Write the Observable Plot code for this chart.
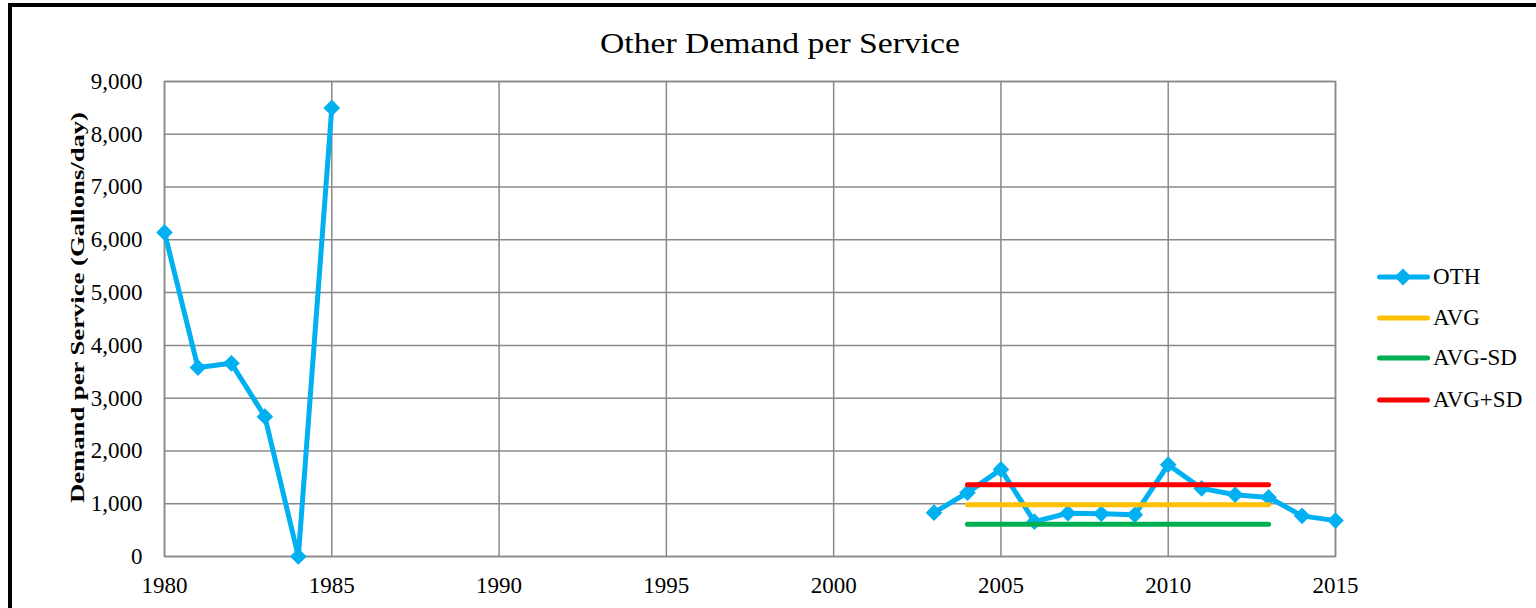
<!DOCTYPE html>
<html><head><meta charset="utf-8">
<script src="https://cdn.jsdelivr.net/npm/d3@7"></script>
<script src="https://cdn.jsdelivr.net/npm/@observablehq/plot@0.6"></script>
<style>
body{margin:0;background:#fff;}
#wrap{position:relative;width:1536px;height:608px;overflow:hidden;font-family:"Liberation Serif","Times New Roman",serif;background:#fff;}
#border{position:absolute;left:8px;top:3px;width:1600px;height:700px;border-left:4px solid #000;border-top:4px solid #000;pointer-events:none;}
#chart{position:absolute;left:0;top:0;}
.leg{position:absolute;left:1377px;height:30px;display:flex;align-items:center;font-size:23px;color:#000;white-space:nowrap;}
.leg svg{display:block;margin-right:3px;}
</style></head><body>
<div id="wrap"><div id="chart"></div><div id="border"></div><div id="legend"></div></div>
<script>
const title = "Other Demand per Service";
const yLabel = "Demand per Service (Gallons/day)";
const years = [1980,1981,1982,1983,1984,1985,1986,1987,1988,1989,1990,1991,1992,1993,1994,1995,1996,1997,1998,1999,2000,2001,2002,2003,2004,2005,2006,2007,2008,2009,2010,2011,2012,2013,2014,2015];
const oth = [6140,3580,3660,2650,0,8500,null,null,null,null,null,null,null,null,null,null,null,null,null,null,null,null,null,830,1210,1650,660,820,810,790,1740,1290,1170,1120,770,680];
const bandYears = [2004, 2013];
const avg = [980, 980];
const avgMinusSd = [610, 610];
const avgPlusSd = [1360, 1360];
const xTicks = [1980,1985,1990,1995,2000,2005,2010,2015];
const yTicks = [0,1000,2000,3000,4000,5000,6000,7000,8000,9000];
const seriesNames = ["OTH","AVG","AVG-SD","AVG+SD"];
const seriesColors = ["#00B0F0","#FFC000","#00B050","#FF0000"];

const data = years.map((year, i) => ({year, oth: oth[i]}));
const band = bandYears.map((year, i) => ({year, avg: avg[i], lo: avgMinusSd[i], hi: avgPlusSd[i]}));
const grid = "#898989";

const chart = Plot.plot({
  width: 1536,
  height: 608,
  marginLeft: 164,
  marginRight: 201,
  marginTop: 81,
  marginBottom: 52,
  style: {fontFamily: "'Liberation Serif','Times New Roman',serif", fontSize: "23px", color: "#000", background: "transparent", overflow: "visible"},
  x: {domain: [1980, 2015]},
  y: {domain: [0, 9000]},
  marks: [
    Plot.gridX(xTicks, {stroke: grid, strokeOpacity: 1, strokeWidth: 1.5}),
    Plot.gridY(yTicks, {stroke: grid, strokeOpacity: 1, strokeWidth: 1.5}),
    Plot.frame({stroke: grid, strokeWidth: 1.5}),
    Plot.axisX({ticks: xTicks, tickSize: 0, tickPadding: 20, tickFormat: d => String(d), label: null}),
    Plot.axisY({ticks: yTicks, tickSize: 0, tickPadding: 22, tickFormat: d3.format(","), label: null}),
    Plot.line(data, {x: "year", y: "oth", stroke: seriesColors[0], strokeWidth: 5}),
    Plot.dot(data, {x: "year", y: "oth", symbol: "diamond2", r: 7.5, fill: seriesColors[0], stroke: "none"}),
    Plot.line(band, {x: "year", y: "avg", stroke: seriesColors[1], strokeWidth: 5}),
    Plot.line(band, {x: "year", y: "lo", stroke: seriesColors[2], strokeWidth: 5}),
    Plot.line(band, {x: "year", y: "hi", stroke: seriesColors[3], strokeWidth: 5})
  ]
});
document.getElementById("chart").appendChild(chart);

const svg = d3.select(chart);
svg.append("text")
  .attr("x", 780).attr("y", 52.5)
  .attr("text-anchor", "middle")
  .attr("font-size", 29)
  .attr("fill", "#000")
  .attr("textLength", 360)
  .attr("lengthAdjust", "spacingAndGlyphs")
  .text(title);
svg.append("text")
  .attr("transform", "translate(83.5,307.5) rotate(-90)")
  .attr("text-anchor", "middle")
  .attr("font-size", 19)
  .attr("font-weight", "bold")
  .attr("fill", "#000")
  .attr("textLength", 391)
  .attr("lengthAdjust", "spacingAndGlyphs")
  .text(yLabel);

const legendTops = [277, 318, 358, 400];
const legend = document.getElementById("legend");
seriesNames.forEach((name, i) => {
  const row = document.createElement("div");
  row.className = "leg";
  row.style.top = (legendTops[i] - 15) + "px";
  const diamond = i === 0 ? `<path d="M26,-8.5L34.5,0L26,8.5L17.5,0Z" transform="translate(0,15)" fill="${seriesColors[i]}"/>` : "";
  row.innerHTML = `<svg width="53" height="30"><line x1="2.5" x2="50.5" y1="15" y2="15" stroke="${seriesColors[i]}" stroke-width="5" stroke-linecap="round"/>${diamond}</svg><span>${name}</span>`;
  legend.appendChild(row);
});
</script>
</body></html>
